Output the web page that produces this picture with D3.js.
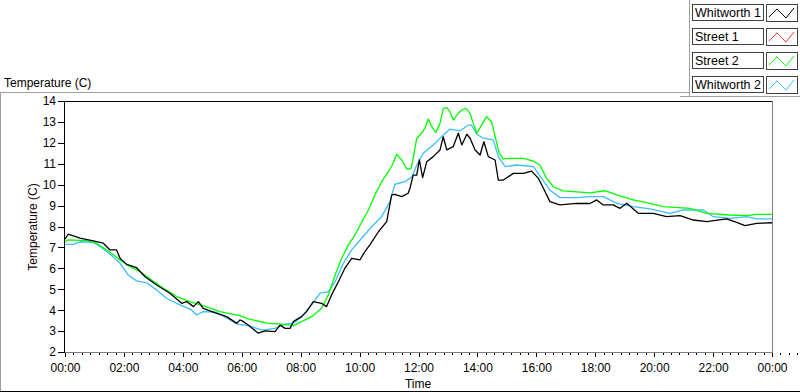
<!DOCTYPE html>
<html>
<head>
<meta charset="utf-8">
<script src="https://cdn.jsdelivr.net/npm/d3@7.9.0/dist/d3.min.js"></script>
<style>
  body { margin: 0; background: #fff; }
  svg { display: block; font-family: "Liberation Sans", Arial, sans-serif; }
</style>
</head>
<body>
<svg id="chart" width="800" height="392"></svg>
<script>
// readings: [hour of day, temperature C]
const whitworth1 = [
  [0, 7.40], [0.11, 7.63], [0.51, 7.44], [0.96, 7.31], [1.30, 7.20], [1.53, 6.88], [1.75, 6.88],
  [1.87, 6.48], [2.09, 6.19], [2.43, 6.03], [2.72, 5.60], [3.11, 5.20], [3.56, 4.81], [3.96, 4.33],
  [4.13, 4.41], [4.36, 4.17], [4.53, 4.41], [4.69, 4.09], [5.15, 3.85], [5.49, 3.69], [5.83, 3.37],
  [5.94, 3.53], [6.0, 3.50], [6.22, 3.29], [6.56, 2.90], [6.79, 3.01], [7.13, 2.97], [7.30, 3.29],
  [7.47, 3.13], [7.64, 3.13], [7.75, 3.45], [8.03, 3.69], [8.20, 3.93], [8.43, 4.41], [8.71, 4.33],
  [8.88, 4.17], [9.05, 4.73], [9.28, 5.36], [9.50, 6.00], [9.73, 6.48], [10.01, 6.40], [10.18, 6.80],
  [10.35, 7.12], [10.64, 7.75], [10.92, 8.23], [11.09, 9.51], [11.20, 9.54], [11.43, 9.43],
  [11.65, 9.59], [11.71, 9.83], [11.82, 10.46], [11.94, 10.46], [12.03, 11.18], [12.14, 10.34],
  [12.28, 11.10], [12.50, 11.34], [12.73, 11.66], [12.84, 12.29], [12.96, 11.66], [13.18, 11.82],
  [13.35, 12.46], [13.47, 11.90], [13.64, 12.41], [13.75, 12.22], [13.92, 11.66], [14.09, 11.42],
  [14.22, 12.05], [14.37, 11.34], [14.60, 11.18], [14.71, 10.22], [14.88, 10.22], [15.22, 10.54],
  [15.56, 10.54], [15.84, 10.65], [16.07, 10.30], [16.24, 9.83], [16.46, 9.19], [16.80, 9.03],
  [17.37, 9.11], [17.82, 9.10], [18.05, 9.27], [18.27, 9.03], [18.61, 9.03], [18.84, 8.87],
  [19.07, 9.11], [19.46, 8.63], [19.97, 8.63], [20.42, 8.47], [20.88, 8.52], [21.33, 8.31],
  [21.78, 8.23], [22.46, 8.36], [22.80, 8.20], [23.08, 8.04], [23.48, 8.15], [24, 8.18]
];
const street1 = [];
const street2 = [
  [0, 7.27], [0.11, 7.36], [0.73, 7.32], [1.07, 7.20], [1.53, 6.77], [1.87, 6.40], [2.21, 6.08],
  [2.55, 5.84], [2.89, 5.49], [3.34, 5.05], [3.79, 4.65], [4.24, 4.41], [4.69, 4.22], [5.26, 3.93],
  [5.94, 3.74], [6.22, 3.58], [6.90, 3.37], [7.35, 3.33], [7.75, 3.26], [8.03, 3.45], [8.37, 3.69],
  [8.71, 4.09], [8.94, 4.73], [9.17, 5.68], [9.39, 6.48], [9.62, 7.12], [9.84, 7.59], [10.07, 8.20],
  [10.30, 8.79], [10.52, 9.51], [10.75, 10.14], [10.98, 10.62], [11.11, 10.94], [11.26, 11.45],
  [11.43, 11.18], [11.60, 10.75], [11.74, 10.76], [11.82, 11.26], [11.94, 12.22], [12.11, 12.46],
  [12.22, 12.70], [12.33, 13.14], [12.45, 12.77], [12.59, 12.50], [12.73, 12.93], [12.84, 13.65],
  [12.96, 13.68], [13.07, 13.49], [13.18, 13.09], [13.35, 13.41], [13.47, 13.57], [13.61, 13.65],
  [13.75, 13.41], [13.86, 12.93], [13.98, 12.46], [14.14, 12.85], [14.31, 13.25], [14.48, 13.01],
  [14.63, 12.14], [14.74, 11.50], [14.88, 11.23], [15.11, 11.26], [15.56, 11.26], [15.90, 11.13],
  [16.12, 10.94], [16.35, 10.30], [16.58, 9.90], [16.91, 9.70], [17.48, 9.64], [17.82, 9.61],
  [18.33, 9.71], [18.73, 9.51], [19.29, 9.27], [19.86, 9.11], [20.31, 8.95], [21.22, 8.87],
  [21.78, 8.63], [22.57, 8.55], [23.14, 8.52], [23.48, 8.58], [24, 8.58]
];
const whitworth2 = [
  [0, 7.15], [0.28, 7.15], [0.51, 7.27], [0.96, 7.24], [1.19, 7.04], [1.53, 6.67], [1.87, 6.24],
  [2.15, 5.68], [2.43, 5.40], [2.77, 5.31], [3.11, 4.97], [3.45, 4.57], [3.90, 4.25], [4.30, 4.01],
  [4.47, 3.77], [4.69, 3.93], [5.15, 3.90], [5.60, 3.53], [5.85, 3.33], [6.22, 3.26], [6.68, 3.05],
  [7.13, 3.13], [7.47, 3.33], [7.75, 3.37], [8.03, 3.69], [8.37, 4.25], [8.66, 4.81], [8.94, 4.89],
  [9.17, 5.36], [9.45, 6.24], [9.73, 6.88], [10.07, 7.44], [10.41, 7.99], [10.75, 8.47], [11.03, 9.19],
  [11.20, 10.02], [11.54, 10.14], [11.77, 10.36], [11.94, 10.94], [12.16, 11.50], [12.50, 11.90],
  [12.84, 12.37], [13.07, 12.66], [13.41, 12.57], [13.69, 12.85], [13.80, 12.85], [13.98, 12.41],
  [14.20, 12.22], [14.54, 12.14], [14.71, 11.34], [14.94, 10.86], [15.33, 10.94], [15.90, 10.86],
  [16.18, 10.30], [16.46, 9.75], [16.80, 9.38], [17.37, 9.38], [17.82, 9.43], [18.27, 9.43],
  [18.73, 9.11], [19.29, 8.95], [19.86, 8.84], [20.54, 8.63], [20.99, 8.79], [21.67, 8.79],
  [22.01, 8.47], [22.57, 8.39], [23.14, 8.47], [23.48, 8.36], [24, 8.36]
];

const seriesNames = ["Whitworth 1", "Street 1", "Street 2", "Whitworth 2"];
const seriesColors = ["#000000", "#ff3c3c", "#00ff00", "#3cbeff"];
const seriesData = [whitworth1, street1, street2, whitworth2];

const yTicks = d3.range(2, 15);
const xTicks = d3.range(0, 25, 2);

const svg = d3.select("#chart");

// panel frame
svg.append("line").attr("x1", 0).attr("x2", 689).attr("y1", 92.5).attr("y2", 92.5).attr("stroke", "#a0a0a0");
svg.append("line").attr("x1", 0.5).attr("x2", 0.5).attr("y1", 92).attr("y2", 391).attr("stroke", "#a0a0a0");
svg.append("line").attr("x1", 0).attr("x2", 800).attr("y1", 391.5).attr("y2", 391.5).attr("stroke", "#000");
svg.append("line").attr("x1", 689.5).attr("x2", 689.5).attr("y1", 0).attr("y2", 96).attr("stroke", "#a0a0a0");
svg.append("line").attr("x1", 680).attr("x2", 800).attr("y1", 96.5).attr("y2", 96.5).attr("stroke", "#a0a0a0");

svg.append("text").attr("x", 4).attr("y", 87).attr("font-size", 12).text("Temperature (C)");

const x = d3.scaleLinear().domain([0, 24]).range([65, 772]);
const y = d3.scaleLinear().domain([2, 14]).range([352, 101]);

// plot area
svg.append("line").attr("x1", 63).attr("x2", 772).attr("y1", 101.5).attr("y2", 101.5).attr("stroke", "#000");
svg.append("line").attr("x1", 772.5).attr("x2", 772.5).attr("y1", 101).attr("y2", 353).attr("stroke", "#808080");
svg.append("line").attr("x1", 64).attr("x2", 773).attr("y1", 352.5).attr("y2", 352.5).attr("stroke", "#808080");

const fmt = h => String(h % 24).padStart(2, "0") + ":00";

// minor ticks on time axis
const minor = d3.range(0, 24 * 7 + 1).map(i => i * 2 / 7).filter((v, i) => i % 7 !== 0);
svg.append("g").attr("transform", "translate(0,353)")
  .call(d3.axisBottom(x).tickValues(minor).tickSize(2).tickFormat(""))
  .call(g => g.select(".domain").remove())
  .attr("shape-rendering", "crispEdges");

svg.append("g").attr("transform", "translate(0,353)")
  .call(d3.axisBottom(x).tickValues(xTicks).tickSize(4).tickPadding(6).tickFormat(fmt))
  .call(g => g.select(".domain").remove())
  .attr("shape-rendering", "crispEdges")
  .call(g => g.selectAll("text").attr("font-size", 12).attr("font-family", "Liberation Sans").attr("fill", "#000"));

svg.append("g").attr("transform", "translate(64,0)")
  .call(d3.axisLeft(y).tickValues(yTicks).tickSize(6).tickPadding(2))
  .attr("shape-rendering", "crispEdges")
  .call(g => g.select(".domain").attr("d", "M0.5,101V352.5"))
  .call(g => g.selectAll("text").attr("font-size", 12).attr("font-family", "Liberation Sans").attr("fill", "#000"));

svg.append("text").attr("x", 418).attr("y", 388).attr("text-anchor", "middle").attr("font-size", 12).text("Time");
svg.append("text").attr("transform", "translate(37,227) rotate(-90)").attr("text-anchor", "middle")
  .attr("font-size", 12).attr("fill", "#200000").text("Temperature (C)");

// series
const plot = svg.append("g");
[1, 3, 2, 0].forEach(i => {
  if (!seriesData[i].length) return;
  plot.append("path").datum(seriesData[i])
    .attr("d", d3.line().x(d => x(d[0])).y(d => y(d[1])))
    .attr("fill", "none").attr("stroke", seriesColors[i]).attr("stroke-width", 1.3)
    .attr("stroke-linejoin", "round");
});

// legend
const legend = svg.append("g");
seriesNames.forEach((name, i) => {
  const ty = 4 + i * 24;
  const g = legend.append("g").attr("transform", `translate(0,${ty})`);
  g.append("rect").attr("x", 692.5).attr("y", 0.5).attr("width", 71).attr("height", 16)
    .attr("fill", "#fff").attr("stroke", "#404040");
  g.append("text").attr("x", 695).attr("y", 13).attr("font-size", 12.5).text(name);
  g.append("rect").attr("x", 766.5).attr("y", 0.5).attr("width", 31).attr("height", 17)
    .attr("fill", "#fff").attr("stroke", "#404040");
  g.append("polyline").attr("points", "769,13 777,5 786,14 794,4")
    .attr("fill", "none").attr("stroke", seriesColors[i]).attr("stroke-width", 1);
});
</script>
</body>
</html>
